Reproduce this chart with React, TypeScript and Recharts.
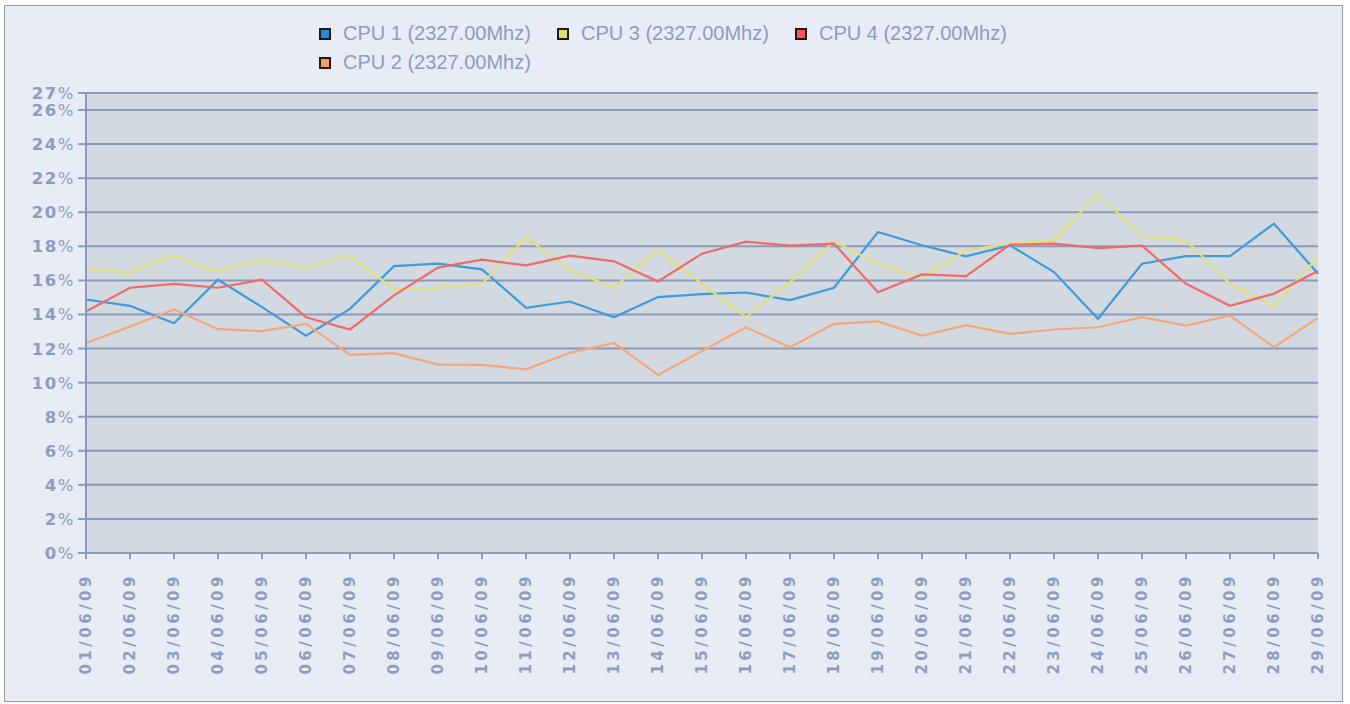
import React from "react";
import {
  LineChart, Line, XAxis, YAxis, CartesianGrid
} from "recharts";

const dates = [
  "01/06/09", "02/06/09", "03/06/09", "04/06/09", "05/06/09", "06/06/09", "07/06/09",
  "08/06/09", "09/06/09", "10/06/09", "11/06/09", "12/06/09", "13/06/09", "14/06/09",
  "15/06/09", "16/06/09", "17/06/09", "18/06/09", "19/06/09", "20/06/09", "21/06/09",
  "22/06/09", "23/06/09", "24/06/09", "25/06/09", "26/06/09", "27/06/09", "28/06/09",
  "29/06/09",
];

const cpu1 = [14.88, 14.51, 13.49, 16.04, 14.43, 12.76, 14.33, 16.84, 16.98, 16.65, 14.39, 14.76, 13.84, 15.02, 15.2, 15.29, 14.84, 15.57, 18.84, 18.06, 17.41, 18.06, 16.49, 13.75, 16.98, 17.43, 17.43, 19.33, 16.39];
const cpu2 = [12.33, 13.29, 14.29, 13.14, 13.02, 13.45, 11.63, 11.73, 11.06, 11.04, 10.78, 11.75, 12.33, 10.45, 11.86, 13.25, 12.08, 13.45, 13.59, 12.76, 13.37, 12.86, 13.12, 13.25, 13.84, 13.35, 13.94, 12.08, 13.8];
const cpu3 = [16.63, 16.49, 17.45, 16.53, 17.22, 16.73, 17.45, 15.47, 15.57, 15.8, 18.51, 16.63, 15.57, 17.8, 15.8, 13.84, 15.9, 18.29, 16.98, 16.14, 17.76, 18.16, 18.35, 21.06, 18.61, 18.35, 15.8, 14.51, 17.37];
const cpu4 = [14.18, 15.57, 15.8, 15.57, 16.04, 13.84, 13.12, 15.12, 16.75, 17.22, 16.88, 17.45, 17.12, 15.94, 17.57, 18.27, 18.04, 18.16, 15.31, 16.35, 16.25, 18.1, 18.16, 17.9, 18.04, 15.8, 14.51, 15.22, 16.55];

const yTicks = [0, 2, 4, 6, 8, 10, 12, 14, 16, 18, 20, 22, 24, 26, 27];

// legend order as in the original: 1, 3, 4 on the first row, 2 wraps
const series = [
  { key: "cpu1", name: "CPU 1 (2327.00Mhz)", line: "#3f9bdc", box: "#2a8ad8" },
  { key: "cpu3", name: "CPU 3 (2327.00Mhz)", line: "#e2e07c", box: "#e0e066" },
  { key: "cpu4", name: "CPU 4 (2327.00Mhz)", line: "#f06a6a", box: "#ff5555" },
  { key: "cpu2", name: "CPU 2 (2327.00Mhz)", line: "#f4a77a", box: "#ff9966" },
];

const data = dates.map((d, i) => ({
  date: d,
  cpu1: cpu1[i],
  cpu2: cpu2[i],
  cpu3: cpu3[i],
  cpu4: cpu4[i],
}));

const axisColor = "#8a9ac0";
const textColor = "#8d9cc2";

function YTick({ x, y, payload }: any) {
  return (
    <text x={x} y={y} dy={6} textAnchor="end" fill={textColor}
      style={{ fontFamily: "DejaVu Sans", fontSize: 16.5, letterSpacing: 1.5 }}>
      <tspan fontWeight="bold">{payload.value}</tspan>
      <tspan>%</tspan>
    </text>
  );
}

function XTick({ x, y, payload }: any) {
  return (
    <text x={x} y={y} transform={`rotate(-90 ${x} ${y})`} textAnchor="end"
      dominantBaseline="central" fill={textColor}
      style={{ fontFamily: "DejaVu Sans", fontSize: 15, fontWeight: "bold", letterSpacing: 3.5 }}>
      {payload.value}
    </text>
  );
}

export default function App() {
  return (
    <div style={{ position: "absolute", left: 0, top: 0, width: 1350, height: 704, background: "#fff" }}>
      <div style={{
        position: "absolute", left: 4, top: 5, width: 1337, height: 695,
        border: "1px solid #9a9a9a", background: "#e8ecf4",
      }} />
      <div style={{
        position: "absolute", left: 319, top: 19, width: 720, display: "flex", flexWrap: "wrap",
        fontFamily: "Liberation Sans", fontSize: 20, color: textColor,
      }}>
        {series.map((s) => (
          <div key={s.key} style={{ width: 238, height: 29, display: "flex", alignItems: "center" }}>
            <span style={{
              display: "inline-block", width: 8, height: 8, background: s.box,
              border: "2px solid #1a1a1a", marginRight: 12, flexShrink: 0,
            }} />
            <span>{s.name}</span>
          </div>
        ))}
      </div>
      <div style={{ position: "absolute", left: 0, top: 0 }}>
        <LineChart width={1350} height={704} data={data}
          margin={{ top: 93, right: 32, bottom: 31, left: 6 }}>
          <CartesianGrid vertical={false} horizontalValues={yTicks} stroke="#8c99b7"
            strokeWidth={2} fill="#d2d9e1" />
          <XAxis dataKey="date" height={120} interval={0} tickSize={6}
            stroke={axisColor} strokeWidth={2} tick={<XTick />} tickMargin={14} />
          <YAxis width={80} domain={[0, 27]} ticks={yTicks} interval={0} tickSize={8}
            stroke={axisColor} strokeWidth={2} tick={<YTick />} tickMargin={3} />
          <YAxis yAxisId="right" orientation="right" width={0} domain={[0, 27]}
            tick={false} tickLine={false} stroke={axisColor} strokeWidth={2} />
          {series.map((s) => (
            <Line key={s.key} type="linear" dataKey={s.key} name={s.name} stroke={s.line}
              strokeWidth={2.2} dot={false} isAnimationActive={false} />
          ))}
        </LineChart>
      </div>
    </div>
  );
}
